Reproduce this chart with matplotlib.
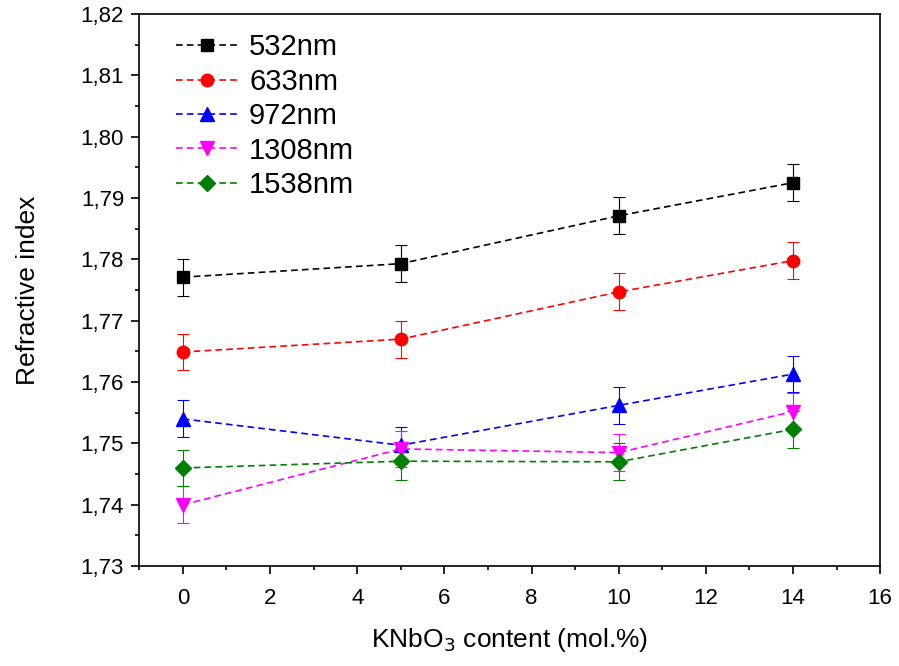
import matplotlib
matplotlib.use("Agg")
import matplotlib.pyplot as plt
from matplotlib.lines import Line2D
from matplotlib.ticker import MultipleLocator, FuncFormatter

plt.rcParams["font.family"] = ["Liberation Sans", "DejaVu Sans"]

content = [0, 5, 10, 14]

labels = ["532nm", "633nm", "972nm", "1308nm", "1538nm"]
n_532 = [1.7771, 1.7793, 1.7871, 1.7925]
n_633 = [1.7649, 1.7670, 1.7747, 1.7798]
n_972 = [1.7540, 1.7497, 1.7562, 1.7613]
n_1308 = [1.7400, 1.7491, 1.7485, 1.7552]
n_1538 = [1.7460, 1.7471, 1.7470, 1.7523]
err = [0.003, 0.003, 0.003, 0.003]

series = [n_532, n_633, n_972, n_1308, n_1538]
colors = ["black", "red", "blue", "magenta", "green"]
markers = ["s", "o", "^", "v", "D"]
sizes = [8, 9, 10, 10, 8]
dash = (4, 2.5)

fig = plt.figure(figsize=(8.99, 6.66), dpi=100)
ax = fig.add_axes([0.155, 0.150, 0.824, 0.829])

handles = []
for vals, lab, c, m, s in zip(series, labels, colors, markers, sizes):
    ax.errorbar(content, vals, yerr=err, color=c, ecolor=c, elinewidth=0.8,
                capsize=4, capthick=0.8, linestyle="--", dashes=dash, linewidth=1.2,
                marker=m, markersize=s)
    handles.append(Line2D([], [], color=c, linestyle="--", dashes=dash, linewidth=1.2,
                          marker=m, markersize=s, label=lab))

ax.set_xlim(-1, 16)
ax.set_ylim(1.73, 1.82)
ax.xaxis.set_major_locator(MultipleLocator(2))
ax.xaxis.set_minor_locator(MultipleLocator(1))
ax.yaxis.set_major_locator(MultipleLocator(0.01))
ax.yaxis.set_minor_locator(MultipleLocator(0.005))
ax.yaxis.set_major_formatter(FuncFormatter(lambda v, p: f"{v:.2f}".replace(".", ",")))

ax.tick_params(which="major", direction="out", length=6, width=1.2, labelsize=16, pad=5)
ax.tick_params(which="minor", direction="out", length=3, width=1.2)
ax.tick_params(axis="x", which="major", pad=10)
for sp in ax.spines.values():
    sp.set_linewidth(1.2)

ax.set_xlabel("KNbO$_3$ content (mol.%)", fontsize=19, labelpad=12)
ax.set_ylabel("Refractive index", fontsize=19, labelpad=29)

ax.legend(handles=handles, loc="upper left", bbox_to_anchor=(0.034, 0.986),
          frameon=False, fontsize=21, handlelength=2.1, handletextpad=0.4,
          labelspacing=0.22, borderaxespad=0)

fig.savefig("out.png", dpi=100)
